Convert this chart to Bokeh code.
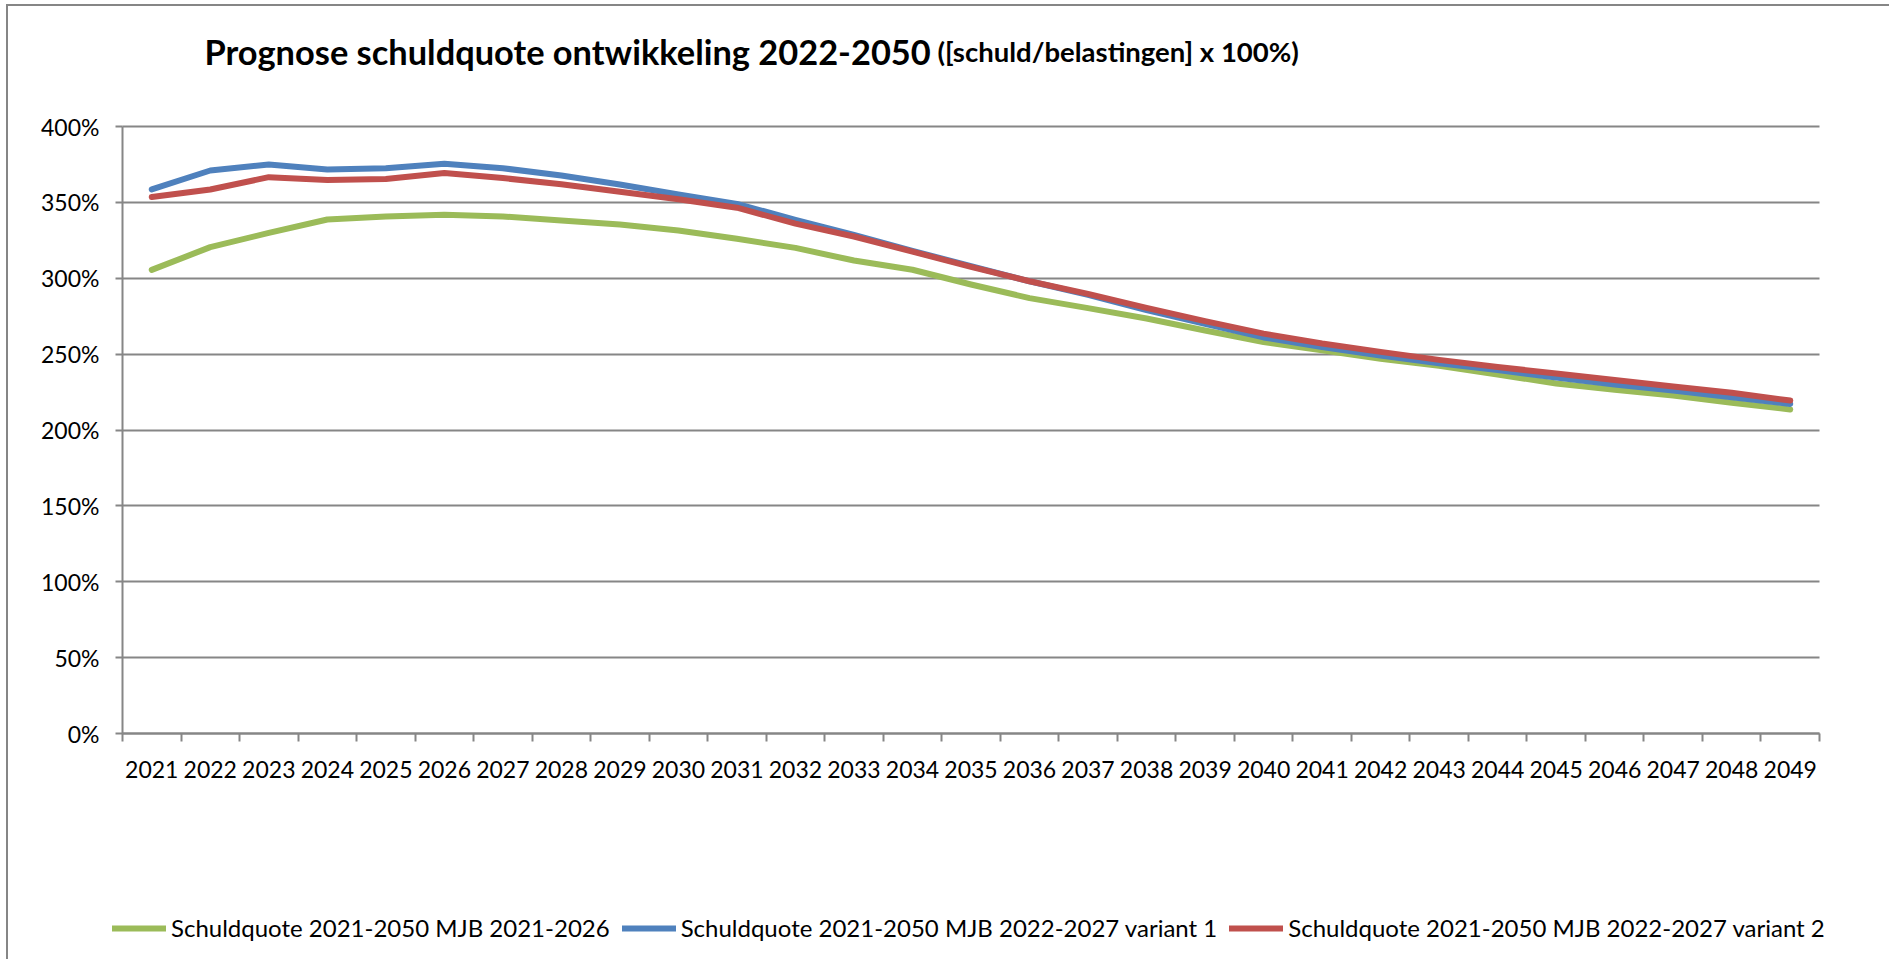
from bokeh.plotting import figure
from bokeh.models import (FixedTicker, PrintfTickFormatter, Legend, LegendItem,
                          Label, ColumnDataSource, Range1d)
from bokeh.embed import file_html
from bokeh.resources import INLINE

years = [str(y) for y in range(2021, 2050)]

mjb_2021_2026 = [305.5, 320.5, 329.9, 338.7, 340.7, 341.8, 340.7, 338.0, 335.4, 331.5,
                 326.0, 320.0, 311.7, 305.6, 295.9, 286.9, 280.3, 273.5, 265.6, 258.0,
                 252.5, 247.0, 242.3, 236.5, 230.7, 226.5, 222.7, 218.0, 213.5]
mjb_2022_2027_v1 = [358.5, 371.0, 375.0, 371.7, 372.5, 375.4, 372.5, 367.7, 361.8, 355.2,
                    349.0, 338.5, 328.5, 318.0, 308.0, 298.0, 289.0, 279.0, 270.0, 261.0,
                    254.7, 249.0, 244.0, 239.5, 234.6, 230.0, 226.0, 221.5, 217.2]
mjb_2022_2027_v2 = [353.5, 358.5, 366.6, 364.8, 365.4, 369.3, 366.0, 362.0, 357.0, 352.0,
                    346.5, 336.0, 327.5, 317.5, 307.5, 298.0, 289.7, 280.5, 271.7, 263.5,
                    257.0, 251.5, 246.2, 241.5, 237.3, 233.0, 228.7, 224.5, 219.4]

series_names = ["Schuldquote 2021-2050 MJB 2021-2026",
                "Schuldquote 2021-2050 MJB 2022-2027 variant 1",
                "Schuldquote 2021-2050 MJB 2022-2027 variant 2"]
series_values = [mjb_2021_2026, mjb_2022_2027_v1, mjb_2022_2027_v2]
series_colors = ["#9BBB59", "#4F81BD", "#C0504D"]

y_ticks = list(range(0, 401, 50))
y_axis_max = 400

title_main = "Prognose schuldquote ontwikkeling 2022-2050"
title_sub = "([schuld/belastingen] x 100%)"

FONT = "Lato"
GRAY = "#868686"

# layout in pixels: canvas size and the margins around the 0..400% plot area
W, H = 1883, 955
M_LEFT, M_RIGHT, M_TOP, M_BOTTOM = 114, 72, 120, 228

n = len(years)
centers = [i + 0.5 for i in range(n)]
bounds = list(range(n + 1))

area_w = W - M_LEFT - M_RIGHT
area_h = H - M_TOP - M_BOTTOM
ux = n / area_w
uy = y_axis_max / area_h

p = figure(width=W, height=H, output_backend="svg", toolbar_location=None,
           x_range=Range1d(-M_LEFT * ux, n + M_RIGHT * ux),
           y_range=Range1d(-M_BOTTOM * uy, y_axis_max + M_TOP * uy),
           min_border=0)
p.outline_line_color = None
p.styles = {"border-top": "2px solid #868686", "border-left": "2px solid #868686",
            "margin-left": "6px", "margin-top": "4px"}

# x axis
p.xaxis.fixed_location = 0
p.xaxis.bounds = (0, n)
p.xaxis.ticker = FixedTicker(ticks=centers, minor_ticks=bounds)
p.xaxis.major_label_overrides = {c: y for c, y in zip(centers, years)}
p.xaxis.major_tick_line_color = None
p.xaxis.minor_tick_line_color = GRAY
p.xaxis.minor_tick_line_width = 2
p.xaxis.minor_tick_in = 0
p.xaxis.minor_tick_out = 8
p.xaxis.axis_line_color = GRAY
p.xaxis.axis_line_width = 2
p.xaxis.major_label_standoff = 19
p.xaxis.major_label_text_font = FONT
p.xaxis.major_label_text_font_size = "23px"
p.xaxis.major_label_text_color = "black"
p.xgrid.grid_line_color = None

# y axis
p.yaxis.fixed_location = 0
p.yaxis.bounds = (0, y_axis_max)
p.yaxis.ticker = FixedTicker(ticks=y_ticks)
p.yaxis.formatter = PrintfTickFormatter(format="%d%%")
p.yaxis.minor_tick_line_color = None
p.yaxis.major_tick_line_color = GRAY
p.yaxis.major_tick_line_width = 2
p.yaxis.major_tick_in = 0
p.yaxis.major_tick_out = 7
p.yaxis.axis_line_color = GRAY
p.yaxis.axis_line_width = 2
p.yaxis.major_label_standoff = 16
p.yaxis.major_label_text_font = FONT
p.yaxis.major_label_text_font_size = "23px"
p.yaxis.major_label_text_color = "black"
p.ygrid.grid_line_color = GRAY
p.ygrid.grid_line_width = 2
p.ygrid.cross_bounds = (0, n)

items = []
for name, vals, col in zip(series_names, series_values, series_colors):
    src = ColumnDataSource(dict(x=centers, y=vals))
    r = p.line("x", "y", source=src, line_color=col, line_width=6,
               line_cap="round", line_join="round")
    items.append(LegendItem(label=name, renderers=[r]))

legend = Legend(items=items, orientation="horizontal", location=(104, 19),
                glyph_width=54, glyph_height=20, label_standoff=5, spacing=12,
                padding=0, margin=0, border_line_color=None,
                background_fill_alpha=0,
                label_text_font=FONT, label_text_font_size="24px",
                label_text_color="black")
p.add_layout(legend, "center")

p.add_layout(Label(x=196, y=H - 45, x_units="screen", y_units="screen", text=title_main,
                   text_font=FONT, text_font_style="bold", text_font_size="34.4px",
                   text_color="black", text_baseline="alphabetic"))
p.add_layout(Label(x=929, y=H - 45, x_units="screen", y_units="screen", text=title_sub,
                   text_font=FONT, text_font_style="bold", text_font_size="27.5px",
                   text_color="black", text_baseline="alphabetic"))

open("out.html", "w").write(file_html(p, INLINE))
